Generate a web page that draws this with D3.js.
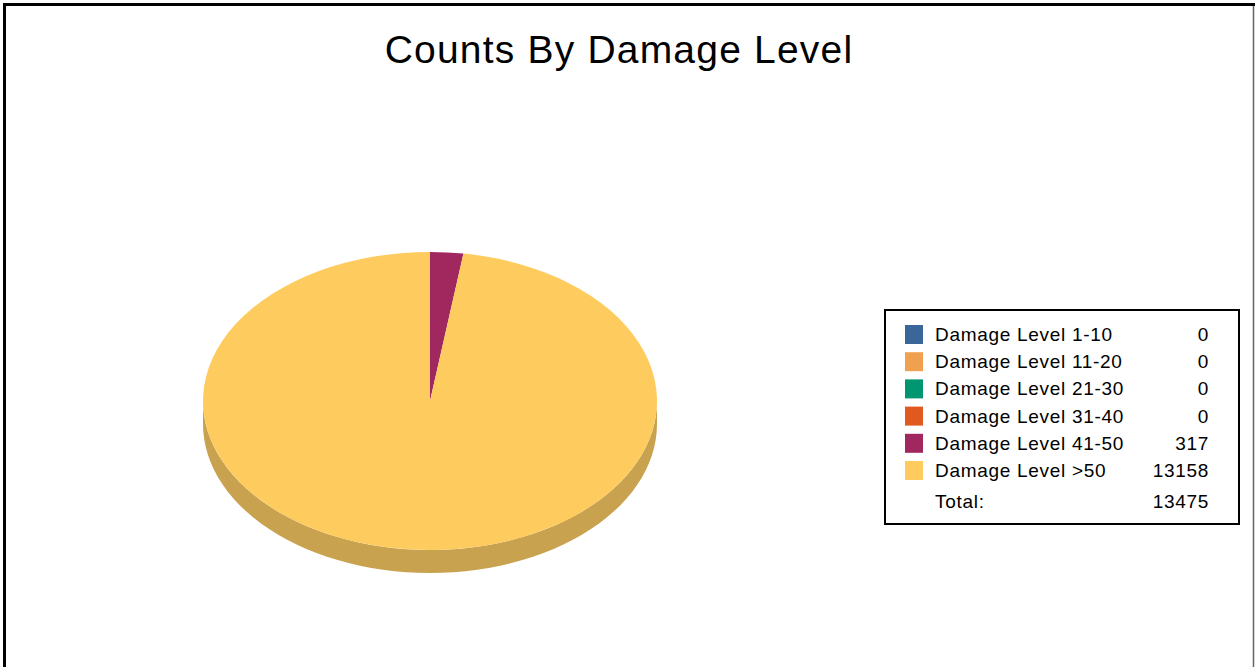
<!DOCTYPE html>
<html>
<head>
<meta charset="utf-8">
<script src="https://cdn.jsdelivr.net/npm/d3@7"></script>
<style>
  html, body { margin: 0; padding: 0; background: #fff; }
  svg { display: block; font-family: "Liberation Sans", Arial, sans-serif; }
</style>
</head>
<body>
<svg id="chart" width="1255" height="667"></svg>
<script>
(function () {
    'use strict';

    const WIDTH = 1255;
    const HEIGHT = 667;

    // data
    const categories = ["Damage Level 1-10", "Damage Level 11-20", "Damage Level 21-30",
                        "Damage Level 31-40", "Damage Level 41-50", "Damage Level >50"];
    const counts = [0, 0, 0, 0, 317, 13158];
    const topColors = ["#3a6699", "#f0a150", "#009670", "#e05a20", "#a0285e", "#fecc5e"];
    const sideColors = ["#2e5179", "#c0803f", "#007858", "#b3481a", "#80204b", "#c8a24e"];
    const totalLabel = "Total:";

    const svg = d3.select("#chart");

    // outer frame
    svg.append("line").attr("x1", 4.5).attr("y1", 3).attr("x2", 4.5).attr("y2", HEIGHT)
        .attr("stroke", "#000").attr("stroke-width", 3);
    svg.append("line").attr("x1", 3).attr("y1", 4.5).attr("x2", WIDTH).attr("y2", 4.5)
        .attr("stroke", "#000").attr("stroke-width", 3);
    svg.append("line").attr("x1", 1253.5).attr("y1", 6).attr("x2", 1253.5).attr("y2", HEIGHT)
        .attr("stroke", "#666").attr("stroke-width", 1.5);

    // title
    svg.append("text")
        .attr("x", 619).attr("y", 63)
        .attr("text-anchor", "middle")
        .attr("font-size", 39)
        .attr("letter-spacing", 1.2)
        .attr("fill", "#000")
        .text("Counts By Damage Level");

    // 3d pie
    const cx = 430, cy = 401, rx = 227, ry = 149, depth = 23;
    const pie = d3.pie().sort(null).value(d => d)(counts);

    const pt = a => [cx + rx * Math.sin(a), cy - ry * Math.cos(a)];

    function sidePath(a0, a1) {
        // only the front half (pi/2 .. 3pi/2) is visible
        const s = Math.max(a0, Math.PI / 2), e = Math.min(a1, Math.PI * 3 / 2);
        if (e <= s) return null;
        const n = 60;
        const top = d3.range(n + 1).map(i => pt(s + (e - s) * i / n));
        const bottom = top.map(p => [p[0], p[1] + depth]).reverse();
        return d3.line()(top.concat(bottom)) + "Z";
    }

    const g = svg.append("g");

    pie.forEach((d, i) => {
        const p = sidePath(d.startAngle, d.endAngle);
        if (p) g.append("path").attr("d", p).attr("fill", sideColors[i]);
    });

    const arc = d3.arc().innerRadius(0).outerRadius(rx);
    g.append("g")
        .attr("transform", `translate(${cx},${cy}) scale(1,${ry / rx})`)
        .selectAll("path")
        .data(pie.filter(d => d.value > 0))
        .join("path")
        .attr("d", arc)
        .attr("fill", d => topColors[d.index]);

    // legend
    const lx = 885, ly = 310, lw = 354, lh = 214;
    const legend = svg.append("g");
    legend.append("rect")
        .attr("x", lx).attr("y", ly).attr("width", lw).attr("height", lh)
        .attr("fill", "#fff").attr("stroke", "#000").attr("stroke-width", 2);

    const rowY = d3.scaleLinear().domain([0, 1]).range([341, 368.2]);

    categories.forEach((c, i) => {
        const y = rowY(i);
        legend.append("rect")
            .attr("x", 905).attr("y", y - 16).attr("width", 18).attr("height", 19)
            .attr("fill", topColors[i]);
        legend.append("text")
            .attr("x", 935).attr("y", y)
            .attr("font-size", 19).attr("letter-spacing", 0.7)
            .text(c);
        legend.append("text")
            .attr("x", 1209).attr("y", y)
            .attr("text-anchor", "end")
            .attr("font-size", 19).attr("letter-spacing", 0.7)
            .text(counts[i]);
    });

    legend.append("text")
        .attr("x", 935).attr("y", 508)
        .attr("font-size", 19).attr("letter-spacing", 0.7)
        .text(totalLabel);
    legend.append("text")
        .attr("x", 1209).attr("y", 508)
        .attr("text-anchor", "end")
        .attr("font-size", 19).attr("letter-spacing", 0.7)
        .text(d3.sum(counts));
})();
</script>
</body>
</html>
